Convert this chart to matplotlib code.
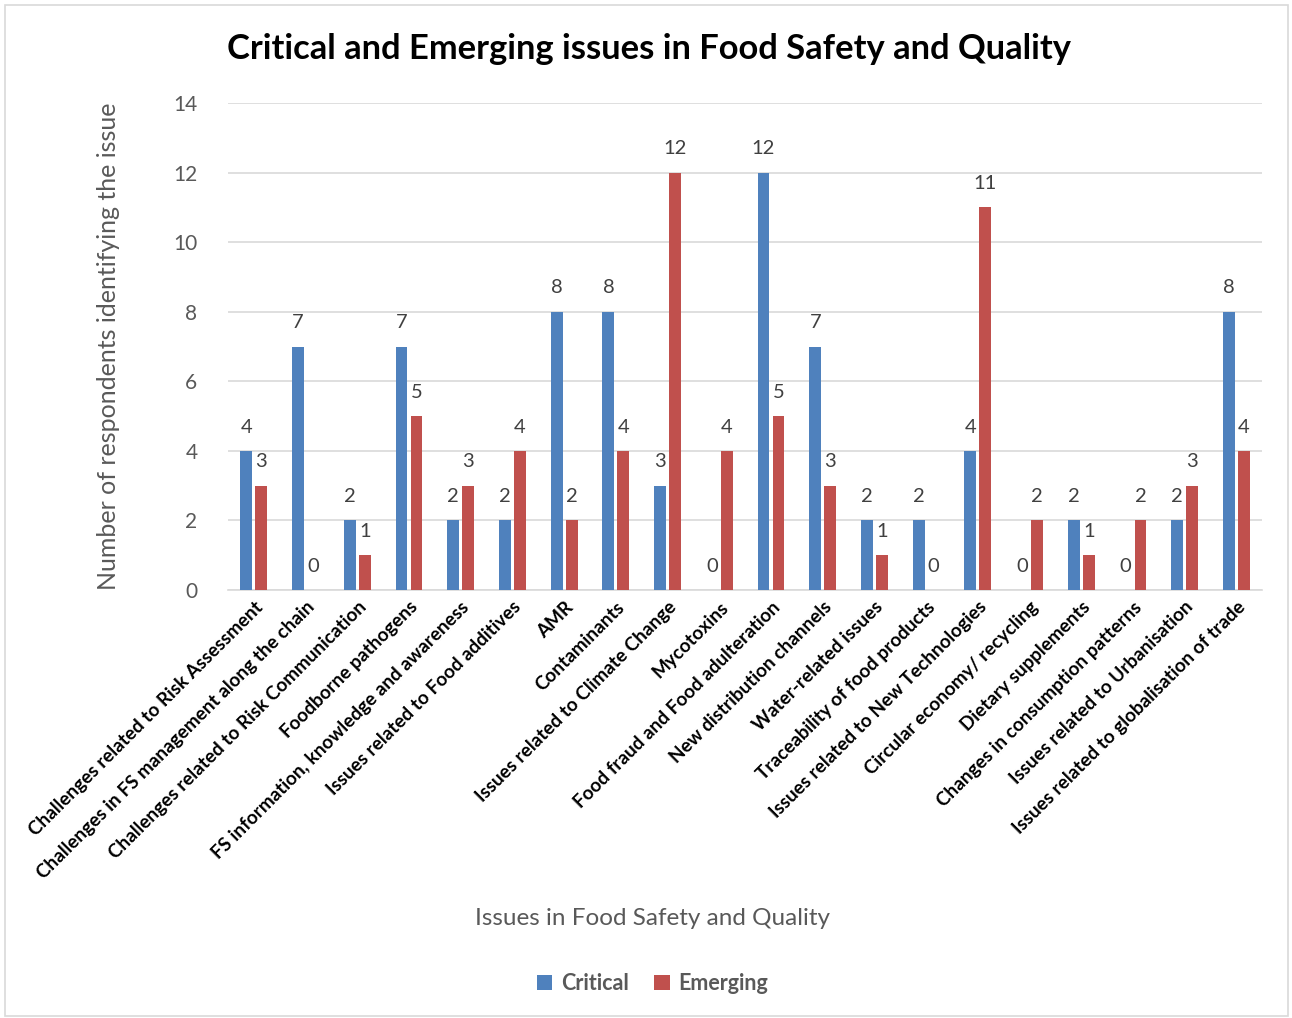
import numpy as np
import matplotlib.pyplot as plt
from matplotlib.patches import Rectangle

categories = [
    "Challenges related to Risk Assessment",
    "Challenges in FS management along the chain",
    "Challenges related to Risk Communication",
    "Foodborne pathogens",
    "FS information, knowledge and awareness",
    "Issues related to Food additives",
    "AMR",
    "Contaminants",
    "Issues related to Climate Change",
    "Mycotoxins",
    "Food fraud and Food adulteration",
    "New distribution channels",
    "Water-related issues",
    "Traceability of food products",
    "Issues related to New Technologies",
    "Circular economy/ recycling",
    "Dietary supplements",
    "Changes in consumption patterns",
    "Issues related to Urbanisation",
    "Issues related to globalisation of trade",
]
critical = [4, 7, 2, 7, 2, 2, 8, 8, 3, 0, 12, 7, 2, 2, 4, 0, 2, 0, 2, 8]
emerging = [3, 0, 1, 5, 3, 4, 2, 4, 12, 4, 5, 3, 1, 0, 11, 2, 1, 2, 3, 4]
y_ticks = [0, 2, 4, 6, 8, 10, 12, 14]

plt.rcParams['font.family'] = ['Lato', 'DejaVu Sans']

fig = plt.figure(figsize=(12.92, 10.18), dpi=100)
ax = fig.add_axes([0.1765, 0.4204, 0.8005, 0.4784])

# chart area border
fig.patches.append(Rectangle((0.004, 0.002), 0.993, 0.993, transform=fig.transFigure,
                             fill=False, edgecolor='#D9D9D9', linewidth=1.2))

x = np.arange(len(categories))
w = 0.23
off = 0.145
blue = '#4F81BD'
red = '#C0504D'
b1 = ax.bar(x - off, critical, w, color=blue, label='Critical', zorder=3)
b2 = ax.bar(x + off, emerging, w, color=red, label='Emerging', zorder=3)

for bars, vals in ((b1, critical), (b2, emerging)):
    for b, v in zip(bars, vals):
        ax.annotate(str(v), (b.get_x() + b.get_width() / 2, v), xytext=(0, 11),
                    textcoords='offset points', ha='center', va='bottom',
                    fontsize=14.5, color='#404040', zorder=4)

ax.set_xlim(-0.5, len(categories) - 0.5)
ax.set_ylim(0, 14)
ax.set_yticks(y_ticks)
ax.yaxis.grid(True, color='#D9D9D9', linewidth=1.2, zorder=0)
ax.set_axisbelow(True)
for s in ['top', 'right', 'left']:
    ax.spines[s].set_visible(False)
ax.spines['bottom'].set_color('#D9D9D9')
ax.spines['bottom'].set_linewidth(1.2)
ax.tick_params(axis='y', length=0, labelsize=15, labelcolor='#595959', pad=22)
ax.tick_params(axis='x', length=0, pad=6)
ax.set_xticks(x)
ax.set_xticklabels(categories, rotation=45, ha='right', rotation_mode='anchor',
                   fontsize=13.6, fontweight='bold', color='black')

ax.set_ylabel('Number of respondents identifying the issue', fontsize=18,
              color='#595959', labelpad=38)
fig.text(0.505, 0.098, 'Issues in Food Safety and Quality', ha='center', va='center',
         fontsize=17.5, color='#595959')
fig.text(0.502, 0.952, 'Critical and Emerging issues in Food Safety and Quality',
         ha='center', va='center', fontsize=24.8, fontweight='bold', color='black')

leg = fig.legend(handles=[b1, b2], loc='center', bbox_to_anchor=(0.505, 0.034), ncol=2,
                 frameon=False, handlelength=0.7, handleheight=0.7, columnspacing=1.2,
                 handletextpad=0.4, prop={'size': 15.5, 'weight': 'bold'})
for t in leg.get_texts():
    t.set_color('#595959')

fig.savefig('out.png', dpi=100)
